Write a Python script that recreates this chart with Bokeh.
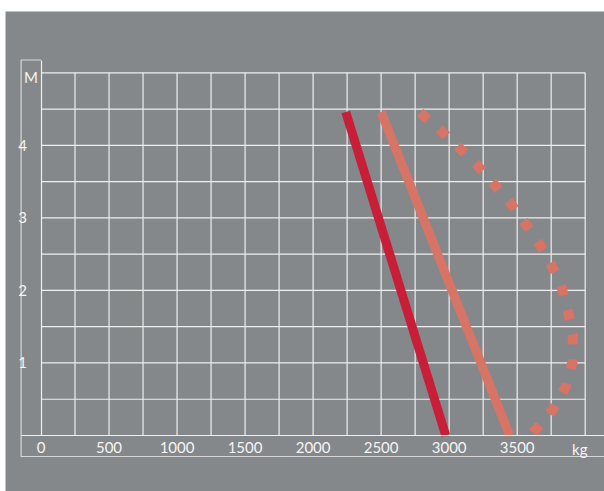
import numpy as np
from bokeh.plotting import figure
from bokeh.models import Range1d, LinearAxis, FixedTicker, Label
from bokeh.embed import file_html
from bokeh.resources import INLINE

# ---------------- data ----------------
X_TICKS = [0, 500, 1000, 1500, 2000, 2500, 3000, 3500]
Y_TICKS = [1, 2, 3, 4]
X_UNIT = "kg"
Y_UNIT = "M"
X_MAX = 4000
Y_MAX = 5
X_GRID_STEP = 250
Y_GRID_STEP = 0.5

RED_KG = [2240, 2975]
RED_M = [4.46, 0.0]

SALMON_KG = [2500, 3445]
SALMON_M = [4.46, 0.0]

DOT_KG = [2788, 2943, 3072, 3200, 3322, 3440, 3550, 3653, 3746, 3827, 3874,
          3910, 3906, 3857, 3766, 3649, 3600]
DOT_M = [4.45, 4.20, 3.97, 3.74, 3.48, 3.23, 2.95, 2.67, 2.37, 2.04, 1.70,
         1.37, 1.01, 0.67, 0.37, 0.11, 0.0]

# ---------------- style / layout ----------------
BG = "#85888a"
DARK = "#5e5f61"
GRID = "#eeeeee"
BOX = "#d6d6d6"
TEXT = "#f4f4f4"
RED = "#c81e37"
SALMON = "#d87466"
FONT = "Lato"
FSIZE = "15px"

W, H = 599, 480          # canvas placed at page (5, 11)
# canvas pixel targets
X0, X1 = 35.5, 579.7      # kg 0 / kg 4000
Y5, Y0 = 61.3, 424.0      # M 5 / M 0
BL, BT, BB = 15.6, 48.5, 445.0   # label box left / top / bottom
FL, FR, FT, FB = 0, W, 0, H      # frame edges = whole canvas

PXK = (X1 - X0) / X_MAX
PXM = (Y0 - Y5) / Y_MAX
x_start = -(X0 - FL) / PXK
x_end = X_MAX + (FR - X1) / PXK
y_end = Y_MAX + (Y5 - FT) / PXM
y_start = -(FB - Y0) / PXM
x_box_left = -(X0 - BL) / PXK
y_box_top = Y_MAX + (Y5 - BT) / PXM
y_box_bot = -(BB - Y0) / PXM

p = figure(width=W, height=H, output_backend="svg", toolbar_location=None,
           x_range=Range1d(x_start, x_end), y_range=Range1d(y_start, y_end),
           x_axis_location=None, y_axis_location=None, title=None,
           min_border_left=0, min_border_right=0,
           min_border_top=0, min_border_bottom=0)
p.center = []
p.background_fill_color = BG
p.border_fill_color = BG
p.outline_line_color = None
p.outline_line_alpha = 0
p.margin = (11, 0, 0, 5)

# grid lines
gx = np.arange(X_GRID_STEP, X_MAX + 1, X_GRID_STEP)
gy = np.arange(Y_GRID_STEP, Y_MAX + 0.001, Y_GRID_STEP)
p.segment(x0=gx, y0=np.zeros_like(gx), x1=gx, y1=np.full_like(gx, Y_MAX, dtype=float),
          line_color=GRID, line_width=1.2)
p.segment(x0=np.zeros_like(gy), y0=gy, x1=np.full_like(gy, X_MAX), y1=gy,
          line_color=GRID, line_width=1.2)

# label box
p.line(x=[0, x_box_left, x_box_left, x_end], y=[y_box_top, y_box_top, y_box_bot, y_box_bot],
       line_color=BOX, line_width=1.2)

# axes
xaxis = LinearAxis(fixed_location=0, bounds=(x_box_left, x_end),
                   ticker=FixedTicker(ticks=X_TICKS, minor_ticks=[]))
yaxis = LinearAxis(fixed_location=0, bounds=(0, y_box_top),
                   ticker=FixedTicker(ticks=Y_TICKS, minor_ticks=[]))
for ax in (xaxis, yaxis):
    ax.axis_line_color = GRID
    ax.axis_line_width = 1.2
    ax.major_tick_line_color = None
    ax.minor_tick_line_color = None
    ax.major_label_text_font = FONT
    ax.major_label_text_font_size = FSIZE
    ax.major_label_text_color = TEXT
xaxis.major_label_standoff = 0
yaxis.major_label_standoff = 8
p.add_layout(xaxis, "below")
p.add_layout(yaxis, "left")

# curves
p.line(RED_KG, RED_M, line_color=RED, line_width=9, line_cap="butt")
p.line(SALMON_KG, SALMON_M, line_color=SALMON, line_width=9, line_cap="butt")
p.line(DOT_KG, DOT_M, line_color=SALMON, line_width=10, line_dash="10 15",
       line_cap="butt", line_join="round")

# unit labels
p.add_layout(Label(x=0, y=Y_MAX, text=Y_UNIT, x_offset=-10.1, y_offset=-4.3,
                   text_align="center", text_baseline="middle",
                   text_font=FONT, text_font_size=FSIZE, text_color=TEXT))
p.add_layout(Label(x=X_MAX, y=0, text=X_UNIT, x_offset=-5.4, y_offset=-13.7,
                   text_align="center", text_baseline="alphabetic",
                   text_font=FONT, text_font_size=FSIZE, text_color=TEXT))

html = file_html(p, INLINE)
html = html.replace("<body>", '<body style="background-color:%s;overflow:hidden;">' % DARK, 1)
open("out.html", "w").write(html)
